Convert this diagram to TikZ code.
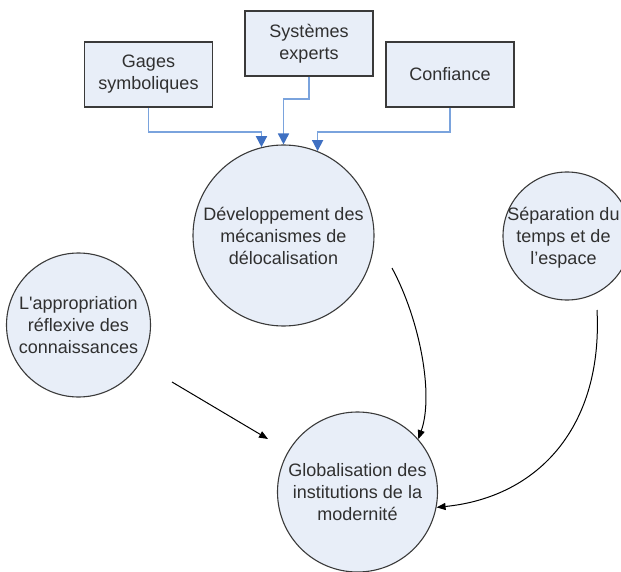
\documentclass[tikz,border=0pt]{standalone}
\usepackage{fontspec}
\setmainfont{Liberation Sans}
\usetikzlibrary{arrows.meta}
\definecolor{fillbl}{HTML}{E8EEF8}
\definecolor{edge}{HTML}{3A3A3A}
\definecolor{txt}{HTML}{303030}
\definecolor{blline}{HTML}{7AA3DD}
\definecolor{bltip}{HTML}{3F70C2}
\tikzset{
  boxst/.style={draw=edge, line width=1.3pt, fill=fillbl, inner sep=0pt, align=center,
    minimum width=128pt, minimum height=65pt, text=txt,
    font=\fontsize{18}{22}\selectfont},
  circst/.style={circle, draw=edge, line width=1.1pt, fill=fillbl, inner sep=0pt, align=center,
    text=txt, font=\fontsize{18}{22}\selectfont},
  txtst/.style={inner sep=0pt, align=center, text=txt, font=\fontsize{18}{22}\selectfont},
  blconn/.style={draw=blline, line width=1.7pt,
    -{Triangle[length=11pt,width=11pt,color=bltip]}},
  blkconn/.style={draw=black, line width=1pt,
    -{Triangle[length=9pt,width=7pt]}}
}
\begin{document}
\begin{tikzpicture}[x=1pt,y=-1pt]
\useasboundingbox (0,0) rectangle (621,572);
% boxes
\node[boxst] (gages) at (148.5,74.5) {Gages\\symboliques};
\node[boxst] (sys) at (309,43.5) {Systèmes\\experts};
\node[boxst] (conf) at (450,74.5) {Confiance};
% circles
\node[circst, minimum size=181pt] (dev) at (283.5,235.5) {Développement des\\mécanismes de\\délocalisation};
\node[circst, minimum size=128pt] (sep) at (567,236) {};
\node[txtst] (septxt) at (563.5,238) {Séparation du\\temps et de\\l’espace};
\node[circst, minimum size=144pt] (app) at (78.5,325) {L\textquotesingle appropriation\\réflexive des\\connaissances};
\node[circst, minimum size=160pt] (glob) at (357.5,492) {Globalisation des\\institutions de la\\modernité};
% blue connectors
\coordinate (ya) at (0,132);
\coordinate (yb) at (0,99);
\draw[blconn] (gages.south) |- (dev.104.4 |- ya) -- (dev.104.4);
\draw[blconn] (sys.south) |- (dev.90 |- yb) -- (dev.90);
\draw[blconn] (conf.south) |- (dev.68.3 |- ya) -- (dev.68.3);
% black connectors
\coordinate (a1) at (172,382);
\coordinate (a2) at (268,439);
\coordinate (b1) at (392,268);
\coordinate (c1) at (597,310);
\draw[blkconn] (a1) -- (a2);
\draw[blkconn] (b1) .. controls (420,320) and (434,395) .. (glob.41);
\draw[blkconn] (c1) .. controls (603,425) and (540,497) .. (glob.-11);
\end{tikzpicture}
\end{document}
